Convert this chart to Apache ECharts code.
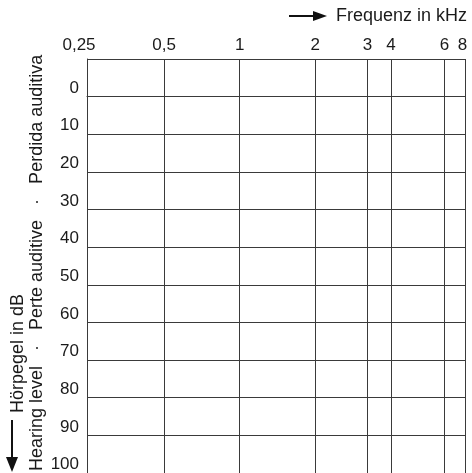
<!DOCTYPE html>
<html><head><meta charset="utf-8">
<script src="https://cdn.jsdelivr.net/npm/echarts@6/dist/echarts.min.js"></script>
<style>html,body{margin:0;padding:0;background:#fff}#c{width:472px;height:473px}</style>
</head><body><div id="c"></div>
<script>
// Frequency tick labels (kHz) and their octave positions on the audiogram axis
const freqLabels = ['0,25', '0,5', '1', '2', '3', '4', '6', '8'];
const freqPos = [0, 1.02, 2.02, 3.02, 3.71, 4.02, 4.73, 5];
// Hearing level axis (dB)
const levelMin = -10;
const levelMax = 100;
const levelStep = 10;
const xTitle = 'Frequenz in kHz';
const yTitle1 = 'Hörpegel in dB';
const yTitle2 = 'Hearing level   ·   Perte auditive   ·   Perdida auditiva';

const FONT = '"Liberation Sans", Arial, sans-serif';
const chart = echarts.init(document.getElementById('c'), null, {renderer: 'canvas'});
const labelMap = {};
freqPos.forEach((p, i) => labelMap[p] = freqLabels[i]);

chart.setOption({
  animation: false,
  grid: {left: 87, right: 7, top: 59, bottom: -2, containLabel: false},
  xAxis: {
    type: 'value', position: 'top', min: 0, max: 5,
    axisLine: {show: true, lineStyle: {color: '#3a3a3a', width: 1}},
    axisTick: {show: false, customValues: freqPos},
    splitLine: {show: true, lineStyle: {color: '#3a3a3a', width: 1}},
    axisLabel: {
      customValues: freqPos, margin: 5,
      fontFamily: FONT, fontSize: 17, color: '#1a1a1a',
      formatter: v => {
        const t = labelMap[v] !== undefined ? labelMap[v] : '';
        if (v === freqPos[0]) return '{a|' + t + '}';
        if (v === freqPos[freqPos.length - 1]) return '{b|' + t + '}';
        return t;
      },
      rich: {
        a: {fontFamily: FONT, fontSize: 17, color: '#1a1a1a', padding: [0, 16, 0, 0]},
        b: {fontFamily: FONT, fontSize: 17, color: '#1a1a1a', padding: [0, 5, 0, 0]}
      }
    }
  },
  yAxis: {
    type: 'value', inverse: true, min: levelMin, max: levelMax, interval: levelStep,
    axisLine: {show: true, lineStyle: {color: '#3a3a3a', width: 1}},
    axisTick: {show: false},
    splitLine: {show: true, lineStyle: {color: '#3a3a3a', width: 1}},
    axisLabel: {
      margin: 8, verticalAlign: 'bottom', padding: [0, 0, 0, 0],
      fontFamily: FONT, fontSize: 17, color: '#1a1a1a',
      formatter: v => v === levelMin ? '' : String(v)
    }
  },
  series: [{type: 'line', data: [], silent: true}],
  graphic: [
    {type: 'line', shape: {x1: 289, y1: 16, x2: 315, y2: 16}, style: {stroke: '#111', lineWidth: 2}},
    {type: 'polygon', shape: {points: [[313, 11], [327, 16], [313, 21]]}, style: {fill: '#111'}},
    {type: 'text', x: 467, y: 16, style: {text: xTitle, font: '18px ' + FONT, fill: '#1a1a1a', align: 'right', verticalAlign: 'middle'}},
    {type: 'text', x: 18, y: 413, rotation: Math.PI / 2, style: {text: yTitle1, font: '18px ' + FONT, fill: '#1a1a1a', align: 'left', verticalAlign: 'middle'}},
    {type: 'text', x: 37, y: 471, rotation: Math.PI / 2, style: {text: yTitle2, font: '18px ' + FONT, fill: '#1a1a1a', align: 'left', verticalAlign: 'middle'}},
    {type: 'line', shape: {x1: 12, y1: 420, x2: 12, y2: 460}, style: {stroke: '#111', lineWidth: 2}},
    {type: 'polygon', shape: {points: [[6, 457], [12, 472], [18, 457]]}, style: {fill: '#111'}}
  ]
});
</script></body></html>
